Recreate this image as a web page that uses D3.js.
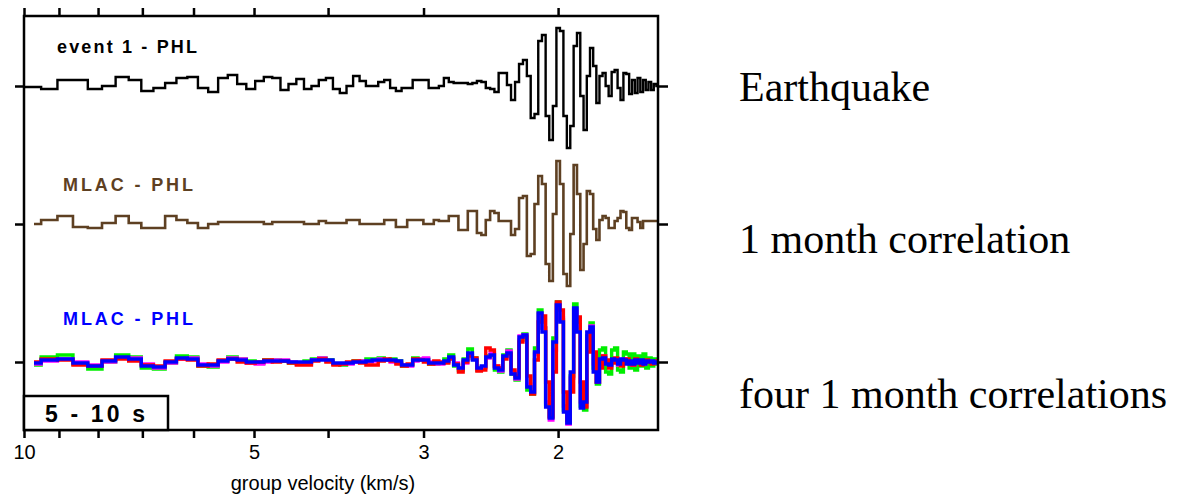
<!DOCTYPE html>
<html>
<head>
<meta charset="utf-8">
<script src="https://cdn.jsdelivr.net/npm/d3@7.9.0/dist/d3.min.js"></script>
<style>
  body { margin: 0; background: #fff; }
  svg { display: block; }
  .axis text { font-family: "Liberation Sans", Arial, sans-serif; font-size: 20px; fill: #000; }
  .axis line { stroke: #000; stroke-width: 2.5; }
  .axis path { display: none; }
  .trace-label { font-family: "Liberation Sans", Arial, sans-serif; font-weight: bold; font-size: 18px; }
  .side-label { font-family: "Liberation Serif", "Times New Roman", serif; font-size: 42px; fill: #000; }
</style>
</head>
<body>
<svg id="chart" width="1192" height="497"></svg>
<script>
// seismogram sampling (uniform in slowness, s/km)
const slowStart = 0.1;
const slowStep = 0.0053;

const traceNames = ['earthquake', 'month', 'four'];
const traceLabels = ['event 1 - PHL', 'MLAC - PHL', 'MLAC - PHL'];
const sideLabels = ['Earthquake', '1 month correlation', 'four 1 month correlations'];
const tickVelocities = [10, 9, 8, 7, 6, 5, 4, 3, 2];
const labeledVelocities = [10, 5, 3, 2];

// amplitudes
const eventTrace = [
  -1, -3, 6, 6, -3, 0, 9, 6, -5, -2,
  3, 8, 9, -2, -6, 8, 11, 2, -3, 5,
  9, 8, -4, 2, 7, -3, 0, 6, 8, -3,
  -7, 0, 10, 5, 0, 0, 4, 6, -2, -5,
  -2, -2, 6, 6, 6, -2, -2, 0, 8, 4,
  3, 3, 3, 2, 3, 5, 4, -2, -3, -6,
  13, 13, 1, -14, 4, 22, 26, 10, -32, -28,
  45, 51, -30, -54, -20, 58, 55, -30, -62, -40,
  40, 53, -10, -44, 10, 38, 20, -17, 10, 13,
  0, -10, 14, 16, -2, -14, 13, 12, -8, 6,
  -7, 8, -6, 6, -4, 4, -4, 2, 0, 0
];
const monthTrace = [
  0, 4, 8, -3, -4, 1, 8, 1, -4, -4,
  8, 4, 1, -4, 0, 2, 2, 2, 2, 2,
  0, 2, 2, 2, 2, 0, 0, 3, 1, 1,
  1, 4, 4, 0, 0, 0, 0, 4, 4, -3,
  -3, 4, 4, 4, 0, 0, 4, 3, 3, 8,
  8, -6, -6, 13, 13, -9, -11, 4, 13, 11,
  3, 3, 3, -11, -5, 26, 28, -32, -30, 20,
  48, 40, -40, -57, 10, 63, 40, -50, -62, -10,
  59, 30, -46, -20, 33, 30, -5, -16, 4, 8,
  6, -4, -4, 3, 6, 13, 12, -4, -6, 6,
  6, 2, -4, 3, 3, 3, 3, 3, 3, 3
];
const greenTrace = [
  -3, 5, 7, -2, -7, 0, 7, 5, -6, -7,
  -1, 6, 5, -4, -5, 1, 5, 3, 1, -1,
  2, 2, 1, -1, -1, 1, 3, 4, 2, -2,
  -3, -1, 1, 1, 3, 3, 4, 2, 3, 1,
  -4, -3, 4, 3, 3, -2, -2, -1, 3, 7,
  -4, -8, 3, 13, 4, -8, -5, 6, 7, -8,
  -10, 7, 12, -12, -18, 22, 28, -28, -32, 14,
  52, 34, -42, -54, 24, 60, 42, -48, -58, -14,
  58, 34, -44, -48, 26, 39, -6, -22, 12, 14,
  -10, -12, 12, 14, -8, -10, 10, 8, -6, 8,
  -8, 6, -4, 8, -6, 4, -4, 3, -2, 0
];
const redTrace = [
  0, 3, 2, -3, -4, 2, 3, 1, -3, -4,
  1, 3, 2, -4, -2, 2, 3, 0, -1, 0,
  2, 0, 1, -1, -3, -3, 1, 3, 0, -3,
  -2, 0, 1, -1, -3, -3, 1, 3, 1, -2,
  -4, -2, 3, 2, 0, -2, 1, 0, -1, 3,
  -2, -10, 0, 6, 4, -9, -8, 14, 12, -4,
  -6, 3, 8, -8, -14, 20, 25, -14, -32, 2,
  40, 46, -20, -55, -10, 60, 52, -30, -58, -30,
  40, 45, -20, -45, 10, 32, 10, -20, -6, 6,
  2, -6, -1, 4, 0, -4, 2, 3, -2, -3,
  3, 1, -3, -1, 2, 0, -2, 0, 1, 0
];
const magentaTrace = [
  -2, 1, 3, 0, -3, 0, 4, 4, -2, -6,
  -1, 3, 4, -2, -4, 0, 4, 3, -1, -2,
  0, 2, 2, 0, -2, -1, 2, 4, 1, -2,
  -2, -2, 0, 1, 0, 1, 3, 2, 0, -1,
  -3, -4, 1, 3, 4, 0, -2, -2, 0, 4,
  -1, -6, -1, 8, 3, -7, -6, 4, 9, -4,
  -9, 5, 11, -10, -17, 26, 27, -22, -31, 8,
  48, 34, -40, -58, 12, 58, 44, -44, -62, -16,
  52, 36, -40, -44, 22, 36, -2, -20, 2, 6,
  -1, -4, 2, 3, -3, 1, 3, -1, 0, -3,
  1, 0, 1, -2, 0, 1, 0, -1, 1, 0
];
const blueTrace = [
  -1, 2, 3, -1, -4, 1, 5, 3, -4, -5,
  0, 4, 3, -3, -3, 1, 3, 2, 0, 0,
  1, 1, 1, 0, 0, 0, 2, 2, 2, -1,
  -1, -1, 0, 0, 1, 2, 2, 2, 2, 1,
  -3, -3, 2, 2, 2, -1, -1, -1, 1, 5,
  -3, -6, 2, 9, 2, -6, -4, 5, 7, -6,
  -8, 6, 9, -12, -16, 25, 27, -25, -30, 10,
  49, 30, -45, -56, 20, 57, 40, -50, -61, -10,
  54, 30, -46, -40, 30, 35, -10, -20, 3, 4,
  -2, -3, 3, 2, -2, 3, 2, -2, 1, -2,
  2, -1, 2, -2, 1, 0, 1, -1, 0, 0
];

const svg = d3.select('#chart');
const plotLeft = 24, plotRight = 658, plotTop = 16, plotBottom = 430;

const x = d3.scaleLog().domain([10, 1.48]).range([plotLeft, plotRight]);
const yTrace = d3.scalePoint().domain(traceNames).range([86, 362]);

// one amplitude scale per trace, centred on its baseline
function ampScale(name) {
  const base = yTrace(name);
  return d3.scaleLinear().domain([-70, 70]).range([base + 70, base - 70]);
}

function velocityAt(i) {
  return 1 / (slowStart + i * slowStep);
}

svg.append('clipPath').attr('id', 'late')
  .append('rect').attr('x', 34).attr('y', plotTop)
  .attr('width', plotRight - 34).attr('height', plotBottom - plotTop);

function drawTrace(values, name, color, width, clip) {
  const y = ampScale(name);
  const line = d3.line()
    .x((d, i) => x(velocityAt(i)))
    .y(d => y(d))
    .curve(d3.curveStepAfter);
  svg.append('path')
    .datum(values)
    .attr('d', line)
    .attr('fill', 'none')
    .attr('stroke', color)
    .attr('stroke-width', width)
    .attr('clip-path', clip ? 'url(#late)' : null);
}

drawTrace(eventTrace, 'earthquake', '#000', 2.4, false);
drawTrace(monthTrace, 'month', '#5e4022', 2.6, true);
drawTrace(greenTrace, 'four', '#00ee00', 3.4, true);
drawTrace(magentaTrace, 'four', '#ff00ff', 3.4, true);
drawTrace(redTrace, 'four', '#ff0000', 3.4, true);
drawTrace(blueTrace, 'four', '#0000ff', 3.4, true);

// trace labels
const labelColors = ['#000', '#5e4022', '#0000ff'];
const labelX = [57, 63, 63];
const labelY = [53, 191, 325];
const labelWidth = [140, 130, 130];
traceLabels.forEach((t, i) => {
  svg.append('text')
    .attr('class', 'trace-label')
    .attr('x', labelX[i]).attr('y', labelY[i])
    .attr('fill', labelColors[i])
    .attr('textLength', labelWidth[i])
    .attr('lengthAdjust', 'spacing')
    .text(t);
});

// axes
const fmt = d => labeledVelocities.includes(d) ? d : '';
svg.append('g').attr('class', 'axis')
  .attr('transform', `translate(0,${plotBottom})`)
  .call(d3.axisBottom(x).tickValues(tickVelocities).tickFormat(fmt).tickSize(8).tickPadding(7));
svg.append('g').attr('class', 'axis')
  .attr('transform', `translate(0,${plotTop})`)
  .call(d3.axisTop(x).tickValues(tickVelocities).tickFormat('').tickSize(8));
svg.append('g').attr('class', 'axis')
  .attr('transform', `translate(${plotLeft},0)`)
  .call(d3.axisLeft(yTrace).tickFormat('').tickSize(9));
svg.append('g').attr('class', 'axis')
  .attr('transform', `translate(${plotRight},0)`)
  .call(d3.axisRight(yTrace).tickFormat('').tickSize(10));

// frame
svg.append('rect')
  .attr('x', plotLeft).attr('y', plotTop)
  .attr('width', plotRight - plotLeft).attr('height', plotBottom - plotTop)
  .attr('fill', 'none').attr('stroke', '#000').attr('stroke-width', 2.5);

// period box
svg.append('rect')
  .attr('x', plotLeft).attr('y', 396)
  .attr('width', 144).attr('height', plotBottom - 396)
  .attr('fill', '#fff').attr('stroke', '#000').attr('stroke-width', 2.5);
svg.append('text')
  .attr('x', 45).attr('y', 422)
  .attr('font-family', '"Liberation Sans", Arial, sans-serif')
  .attr('font-weight', 'bold').attr('font-size', 23)
  .attr('textLength', 100).attr('lengthAdjust', 'spacing')
  .text('5 - 10 s');

svg.append('text')
  .attr('x', 323).attr('y', 490)
  .attr('text-anchor', 'middle')
  .attr('font-family', '"Liberation Sans", Arial, sans-serif')
  .attr('font-size', 20)
  .text('group velocity (km/s)');

// right-hand descriptions
const sideY = [101, 253, 408];
sideLabels.forEach((t, i) => {
  svg.append('text').attr('class', 'side-label')
    .attr('x', 739).attr('y', sideY[i]).text(t);
});
</script>
</body>
</html>
